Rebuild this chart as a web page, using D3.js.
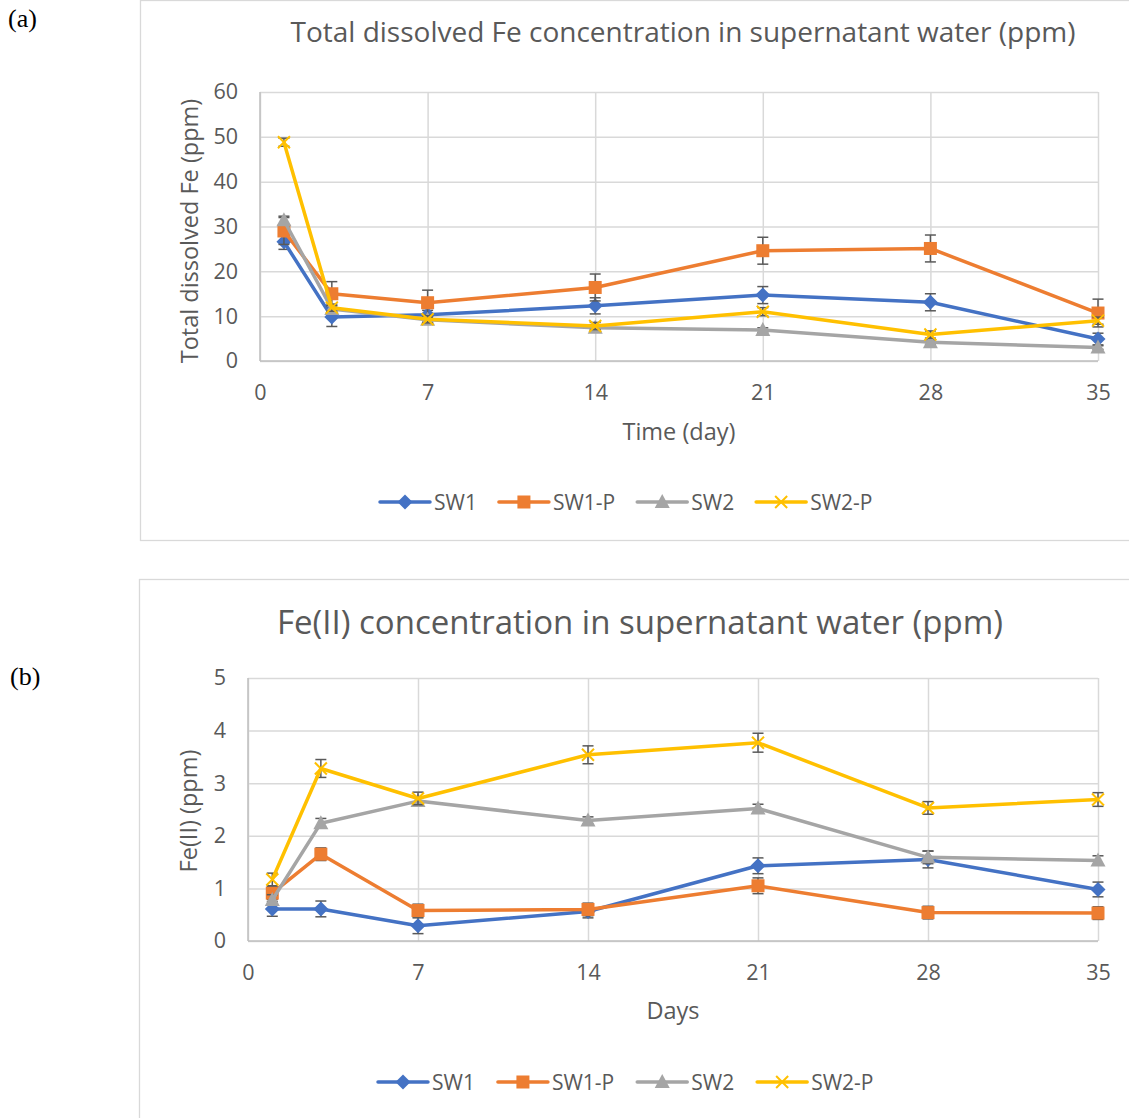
<!DOCTYPE html>
<html>
<head>
<meta charset="utf-8">
<script src="https://cdn.jsdelivr.net/npm/d3@7"></script>
<style>
  body { margin: 0; background: #fff; }
  svg { display: block; }
  text { font-family: "Open Sans", sans-serif; fill: #595959; }
</style>
</head>
<body>
<div id="chart"></div>
<script>
// sampling days
const days = [1, 3, 7, 14, 21, 28, 35];
const xTicks = [0, 7, 14, 21, 28, 35];
const seriesNames = ["SW1", "SW1-P", "SW2", "SW2-P"];

// (a) total dissolved Fe (ppm)
const totalSW1 = [26.6, 9.8, 10.3, 12.3, 14.7, 13.1, 4.9];
const totalSW1P = [29.0, 15.0, 13.0, 16.4, 24.6, 25.1, 10.7];
const totalSW2 = [31.4, 11.6, 9.2, 7.4, 6.9, 4.2, 3.0];
const totalSW2P = [48.8, 11.9, 9.3, 7.8, 11.0, 5.9, 9.0];
const totalSW1Err = [1.7, 2.1, 1.0, 1.8, 1.9, 1.9, 1.3];
const totalSW1PErr = [3.0, 2.7, 2.8, 3.0, 3.0, 3.0, 3.1];
const totalSW2Err = [0.9, 0.8, 0.5, 0.6, 0.5, 0.5, 0.4];
const totalSW2PErr = [0.9, 0.8, 0.8, 0.8, 0.9, 0.8, 0.8];
const totalTicks = [0, 10, 20, 30, 40, 50, 60];

// (b) Fe(II) (ppm)
const fe2SW1 = [0.61, 0.61, 0.29, 0.56, 1.43, 1.55, 0.98];
const fe2SW1P = [0.91, 1.65, 0.58, 0.60, 1.05, 0.54, 0.53];
const fe2SW2 = [0.78, 2.24, 2.66, 2.29, 2.52, 1.59, 1.53];
const fe2SW2P = [1.17, 3.28, 2.71, 3.54, 3.77, 2.53, 2.69];
const fe2SW1Err = [0.14, 0.15, 0.15, 0.12, 0.15, 0.16, 0.14];
const fe2SW1PErr = [0.12, 0.12, 0.12, 0.12, 0.15, 0.12, 0.12];
const fe2SW2Err = [0.10, 0.09, 0.08, 0.07, 0.08, 0.12, 0.09];
const fe2SW2PErr = [0.12, 0.17, 0.12, 0.17, 0.18, 0.12, 0.13];
const fe2Ticks = [0, 1, 2, 3, 4, 5];

const colors = ["#4472C4", "#ED7D31", "#A5A5A5", "#FFC000"];
const markers = ["diamond", "square", "triangle", "x"];

const svg = d3.select("#chart").append("svg")
  .attr("width", 1129)
  .attr("height", 1118);

svg.append("rect").attr("width", 1129).attr("height", 1118).attr("fill", "#fff");

// outer chart frames
svg.append("rect")
  .attr("x", 140.5).attr("y", 0.5).attr("width", 1000).attr("height", 540)
  .attr("fill", "none").attr("stroke", "#d9d9d9").attr("stroke-width", 1.3);
svg.append("rect")
  .attr("x", 139.5).attr("y", 579.5).attr("width", 1000).attr("height", 600)
  .attr("fill", "none").attr("stroke", "#d9d9d9").attr("stroke-width", 1.3);

// panel labels
svg.append("text").attr("x", 8).attr("y", 27)
  .style("font-family", "'Liberation Serif', serif").style("font-size", "26px").style("fill", "#000")
  .text("(a)");
svg.append("text").attr("x", 10).attr("y", 685)
  .style("font-family", "'Liberation Serif', serif").style("font-size", "26px").style("fill", "#000")
  .text("(b)");

function drawMarker(g, type, color) {
  if (type === "diamond") {
    g.append("path").attr("d", "M0,-7.5L7.5,0L0,7.5L-7.5,0Z").attr("fill", color);
  } else if (type === "square") {
    g.append("rect").attr("x", -6.5).attr("y", -6.5).attr("width", 13).attr("height", 13).attr("fill", color);
  } else if (type === "triangle") {
    g.append("path").attr("d", "M0,-8L7.5,6L-7.5,6Z").attr("fill", color);
  } else {
    g.append("path").attr("d", "M-6,-6L6,6M6,-6L-6,6")
      .attr("stroke", color).attr("stroke-width", 2).attr("fill", "none");
  }
}

function drawChart(opt) {
  const x = d3.scaleLinear().domain([0, 35]).range([opt.left, opt.right]);
  const y = d3.scaleLinear().domain([0, d3.max(opt.yTicks)]).range([opt.bottom, opt.top]);

  // gridlines
  svg.append("g")
    .attr("transform", `translate(${opt.left},0)`)
    .call(d3.axisLeft(y).tickValues(opt.yTicks).tickSize(-(opt.right - opt.left)).tickFormat(""))
    .call(g => g.select(".domain").remove())
    .call(g => g.selectAll("line").attr("stroke", "#d9d9d9").attr("stroke-width", 1.5));
  svg.append("g")
    .attr("transform", `translate(0,${opt.bottom})`)
    .call(d3.axisBottom(x).tickValues(xTicks).tickSize(-(opt.bottom - opt.top)).tickFormat(""))
    .call(g => g.select(".domain").remove())
    .call(g => g.selectAll("line").attr("stroke", "#d9d9d9").attr("stroke-width", 1.5));

  // axis lines
  svg.append("line")
    .attr("x1", opt.left).attr("x2", opt.right).attr("y1", opt.bottom).attr("y2", opt.bottom)
    .attr("stroke", "#bfbfbf").attr("stroke-width", 1.5);
  svg.append("line")
    .attr("x1", opt.left).attr("x2", opt.left).attr("y1", opt.top).attr("y2", opt.bottom)
    .attr("stroke", "#bfbfbf").attr("stroke-width", 1.5);

  // tick labels
  svg.append("g")
    .attr("transform", `translate(${opt.left - 10},0)`)
    .call(d3.axisLeft(y).tickValues(opt.yTicks).tickSize(0).tickPadding(12).tickFormat(d3.format("d")))
    .call(g => g.select(".domain").remove())
    .call(g => g.selectAll("text").style("font-size", "21.5px").style("font-family", "'Open Sans', sans-serif").attr("fill", "#595959"));
  svg.append("g")
    .attr("transform", `translate(0,${opt.bottom + 24})`)
    .call(d3.axisBottom(x).tickValues(xTicks).tickSize(0).tickPadding(0))
    .call(g => g.select(".domain").remove())
    .call(g => g.selectAll("text").style("font-size", "21.5px").style("font-family", "'Open Sans', sans-serif").attr("fill", "#595959"));

  // titles
  svg.append("text")
    .attr("x", opt.titleX).attr("y", opt.titleY)
    .attr("text-anchor", "middle")
    .style("font-size", opt.titleSize)
    .text(opt.title);
  svg.append("text")
    .attr("x", (opt.left + opt.right) / 2).attr("y", opt.xTitleY)
    .attr("text-anchor", "middle")
    .style("font-size", "23.5px")
    .text(opt.xTitle);
  svg.append("text")
    .attr("transform", `translate(${opt.yTitleX},${opt.yTitleY}) rotate(-90)`)
    .attr("text-anchor", "middle")
    .style("font-size", "23.5px")
    .text(opt.yTitle);

  // series
  const line = d3.line().x((d, i) => x(days[i])).y(d => y(d));
  opt.series.forEach((vals, s) => {
    const g = svg.append("g");
    const errs = opt.errors[s];
    vals.forEach((v, i) => {
      const cx = x(days[i]);
      const y1 = y(v + errs[i]), y2 = y(v - errs[i]);
      g.append("line").attr("x1", cx).attr("x2", cx).attr("y1", y1).attr("y2", y2)
        .attr("stroke", "#595959").attr("stroke-width", 1.5);
      [y1, y2].forEach(yy => g.append("line")
        .attr("x1", cx - 5.5).attr("x2", cx + 5.5).attr("y1", yy).attr("y2", yy)
        .attr("stroke", "#595959").attr("stroke-width", 1.5));
    });
    g.append("path").datum(vals)
      .attr("d", line)
      .attr("fill", "none")
      .attr("stroke", colors[s])
      .attr("stroke-width", 3.5)
      .attr("stroke-linejoin", "round");
    vals.forEach((v, i) => {
      drawMarker(g.append("g").attr("transform", `translate(${x(days[i])},${y(v)})`), markers[s], colors[s]);
    });
  });

  // legend
  let lx = opt.legendX;
  seriesNames.forEach((name, s) => {
    const g = svg.append("g").attr("transform", `translate(${lx},${opt.legendY})`);
    g.append("line").attr("x1", 0).attr("x2", 50).attr("y1", 0).attr("y2", 0)
      .attr("stroke", colors[s]).attr("stroke-width", 3.5).attr("stroke-linecap", "round");
    drawMarker(g.append("g").attr("transform", "translate(25,0)"), markers[s], colors[s]);
    const t = g.append("text").attr("x", 54).attr("y", 7.5).style("font-size", "21px").text(name);
    lx += 54 + t.node().getComputedTextLength() + opt.legendGap;
  });
}

drawChart({
  left: 260, right: 1098, top: 92, bottom: 361,
  yTicks: totalTicks,
  series: [totalSW1, totalSW1P, totalSW2, totalSW2P],
  errors: [totalSW1Err, totalSW1PErr, totalSW2Err, totalSW2PErr],
  title: "Total dissolved Fe concentration in supernatant water (ppm)",
  titleX: 683, titleY: 42, titleSize: "28px",
  xTitle: "Time (day)", xTitleY: 440,
  yTitle: "Total dissolved Fe (ppm)", yTitleX: 198, yTitleY: 231,
  legendX: 380, legendY: 502, legendGap: 22
});

drawChart({
  left: 248, right: 1098, top: 678, bottom: 941,
  yTicks: fe2Ticks,
  series: [fe2SW1, fe2SW1P, fe2SW2, fe2SW2P],
  errors: [fe2SW1Err, fe2SW1PErr, fe2SW2Err, fe2SW2PErr],
  title: "Fe(II) concentration in supernatant water (ppm)",
  titleX: 640, titleY: 634, titleSize: "33px",
  xTitle: "Days", xTitleY: 1019,
  yTitle: "Fe(II) (ppm)", yTitleX: 197, yTitleY: 811,
  legendX: 378, legendY: 1082, legendGap: 23
});
</script>
</body>
</html>
